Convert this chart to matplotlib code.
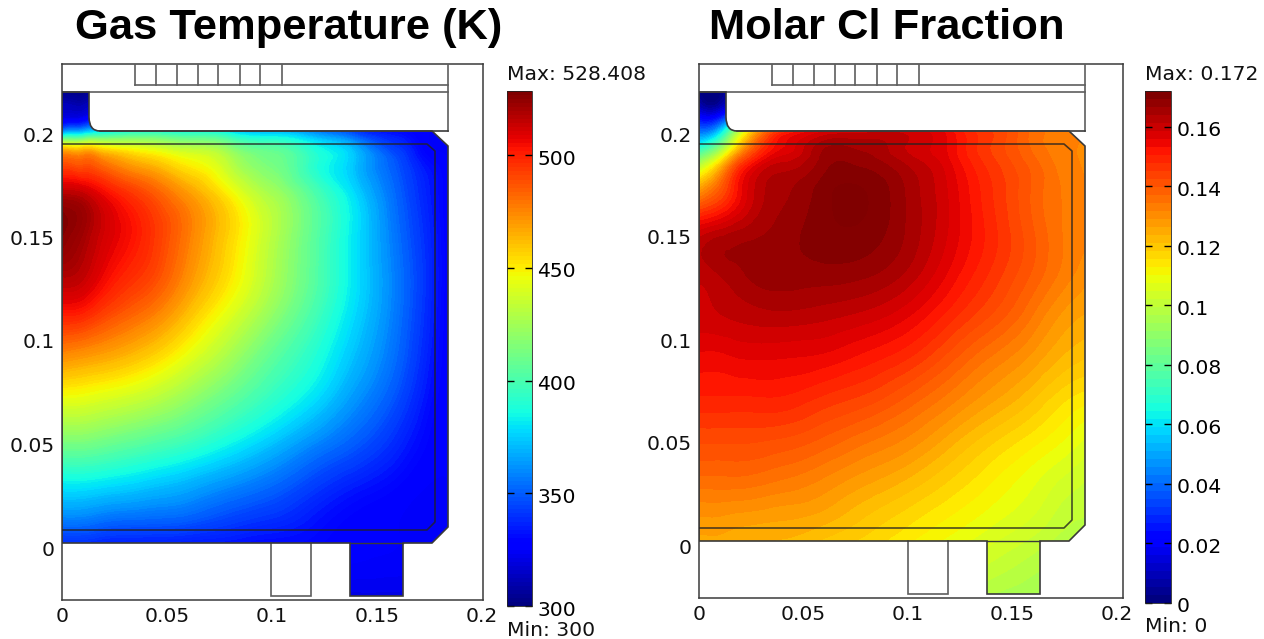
import numpy as np
import matplotlib
matplotlib.use("Agg")
import matplotlib.pyplot as plt
import matplotlib.tri as mtri
from matplotlib.path import Path
from matplotlib.patches import PathPatch
from matplotlib.cm import ScalarMappable
from matplotlib.colors import Normalize
from matplotlib.transforms import ScaledTranslation

W, H = 1264, 639

x_nodes = [0, .01, .02, .04, .06, .08, .10, .12, .14, .16, .175, .185]
y_nodes = [-.027, 0, .01, .03, .05, .07, .09, .11, .13, .15, .17, .185, .194, .2, .21, .22]

temperature = [
    [320]*12,
    [337,337,335,334,333,332,330,329,326,325,324,324],
    [353,353,350,348,346,341,337,332,327,325,324,324],
    [382,382,380,375,369,361,353,343,335,329,325,325],
    [414,414,411,404,396,385,373,360,349,337,328,325],
    [443,442,439,432,420,406,392,378,361,345,331,325],
    [472,469,466,457,442,424,405,389,370,351,334,325],
    [499,497,490,478,460,440,419,398,376,354,336,325],
    [518,515,506,493,473,452,428,404,379,355,337,325],
    [527,521,512,498,478,456,431,405,379,353,336,325],
    [517,514,505,489,470,448,425,401,376,350,334,325],
    [487,485,478,462,448,430,412,391,371,346,330,325],
    [437,437,435,430,421,410,398,382,362,338,325,325],
    [355,366,378,389,385,378,369,357,341,330,325,325],
    [314,314,325,335,335,335,335,330,330,325,323,323],
    [300,300,310,320,325,325,325,325,325,323,323,323],
]
cl_fraction = [
    [.110,.110,.110,.110,.110,.105,.100,.099,.096,.094,.092,.092],
    [.125,.125,.124,.123,.120,.117,.113,.109,.105,.101,.098,.097],
    [.128,.128,.127,.126,.124,.120,.116,.112,.108,.104,.100,.099],
    [.136,.136,.136,.134,.131,.127,.123,.118,.113,.108,.104,.102],
    [.143,.143,.143,.142,.139,.135,.131,.125,.119,.114,.110,.107],
    [.150,.150,.150,.150,.147,.144,.139,.133,.127,.121,.116,.114],
    [.155,.155,.156,.156,.155,.152,.148,.141,.134,.128,.123,.121],
    [.160,.161,.162,.163,.162,.160,.156,.149,.142,.134,.128,.126],
    [.162,.164,.166,.168,.168,.167,.163,.155,.147,.139,.133,.130],
    [.160,.163,.165,.168,.171,.171,.166,.158,.149,.140,.134,.132],
    [.130,.141,.155,.166,.171,.172,.166,.158,.148,.139,.134,.132],
    [.092,.115,.143,.161,.168,.168,.163,.156,.146,.138,.133,.131],
    [.060,.080,.118,.155,.165,.165,.161,.155,.145,.136,.133,.131],
    [.040,.055,.100,.147,.158,.160,.160,.154,.145,.136,.133,.130],
    [.012,.012,.040,.100,.130,.140,.140,.140,.135,.130,.125,.125],
    [.000,.000,.020,.060,.100,.120,.120,.120,.120,.120,.120,.120],
]

tick_x = [0, .05, .1, .15, .2]
tick_y = [0, .05, .1, .15, .2]
tick_x_labels = ['0', '0.05', '0.1', '0.15', '0.2']
tick_y_labels = ['0', '0.05', '0.1', '0.15', '0.2']
t_ticks = [300, 350, 400, 450, 500]
t_tick_labels = ['300', '350', '400', '450', '500']
c_ticks = [0, .02, .04, .06, .08, .1, .12, .14, .16]
c_tick_labels = ['0', '0.02', '0.04', '0.06', '0.08', '0.1', '0.12', '0.14', '0.16']

BASE = 14.6
TITLE = 'Liberation Sans'
EDGE = '#3a3a3a'
GREY = '#5e5e5e'

fig = plt.figure(figsize=(W/100, H/100), dpi=100, facecolor='white')
plt.rcParams['font.family'] = ['DejaVu Sans']


def axes_px(x0, x1, y0, y1):
    return fig.add_axes([x0/W, 1-y1/H, (x1-x0)/W, (y1-y0)/H])


def shift(label, dy):
    label.set_transform(label.get_transform() + ScaledTranslation(0, -dy/100, fig.dpi_scale_trans))


def panel(box, xs, ys, yzero, values, vmin, vmax, nlev, bot):
    ax = axes_px(*box)
    ax.set_xlim(0, (box[1]-box[0])/xs)
    ax.set_ylim((yzero-box[3])/ys, (yzero-box[2])/ys)
    px = lambda p: (p-box[0])/xs
    py = lambda p: (yzero-p)/ys

    xr, yb, yt = px(box[0]+386), py(bot), py(131)
    ch = px(box[0]+370)
    ibx = px(box[0]+27)
    fx = px(box[0]+38)
    itop = py(92)
    outb = py(bot+53)
    ox0, ox1 = px(box[0]+288), px(box[0]+341)
    wx0, wx1 = px(box[0]+209), px(box[0]+249)

    verts = [(0, yb), (ox0, yb), (ox0, outb), (ox1, outb), (ox1, yb), (ch, yb),
             (xr, py(bot-16)), (xr, py(146)), (ch, yt), (fx, yt),
             (ibx, yt), (ibx, py(117)), (ibx, itop), (0, itop), (0, yb)]
    codes = [Path.MOVETO] + [Path.LINETO]*8 + [Path.LINETO, Path.CURVE3, Path.CURVE3,
                                                Path.LINETO, Path.LINETO, Path.CLOSEPOLY]
    shape = Path(verts, codes)

    X, Y = np.meshgrid(x_nodes, y_nodes)
    tr = mtri.Triangulation(X.ravel(), Y.ravel())
    ref = mtri.UniformTriRefiner(tr)
    tf, zf = ref.refine_field(np.asarray(values, float).ravel(), subdiv=3)
    levels = np.linspace(vmin, vmax, nlev+1)
    cs = ax.tricontourf(tf, zf, levels=levels, cmap='jet', vmin=vmin, vmax=vmax,
                        extend='both', antialiased=False)
    clip = PathPatch(shape, transform=ax.transData, fc='none', ec='none')
    ax.add_patch(clip)
    cs.set_clip_path(clip)
    ax.add_patch(PathPatch(shape, fc='none', ec=EDGE, lw=1.2, zorder=5))
    ax.plot([ox0, ox1], [yb, yb], color=EDGE, lw=1.0, zorder=5)

    # inner liner
    ity, iby = py(144), py(bot-13)
    ix, ic = px(box[0]+373), px(box[0]+365)
    ax.plot([0, ic, ix, ix, ic, 0], [ity, ity, py(151), py(bot-21), iby, iby],
            color='#222222', lw=1.2, alpha=.8, zorder=5)

    # unmeshed outlines
    kw = dict(color=GREY, lw=1.2, zorder=4, solid_joinstyle='miter')
    ax.plot([0, xr], [py(92), py(92)], **kw)
    ax.plot([px(box[0]+73), xr], [py(85), py(85)], **kw)
    ax.plot([xr, xr], [py(box[2]), yt], **kw)
    ax.plot([fx, xr], [yt, yt], color=EDGE, lw=1.2, zorder=4)
    for p in [73, 94, 115, 136, 156, 178, 198, 220]:
        ax.plot([px(box[0]+p)]*2, [py(box[2]), py(85)], **kw)
    ax.plot([wx0, wx0, wx1, wx1], [yb, outb, outb, yb], **kw)

    ax.set_xticks(tick_x, tick_x_labels)
    ax.set_yticks(tick_y, tick_y_labels)
    ax.tick_params(length=0, labelsize=BASE, pad=5.0, colors='#111111')
    for s in ax.spines.values():
        s.set_linewidth(1.1)
        s.set_color(EDGE)
    for l in ax.get_yticklabels():
        shift(l, 3)
    return ax


def cbar(box, vmin, vmax, n, ticks, labels, top, bottom, max_text, min_text):
    cax = axes_px(*box)
    sm = ScalarMappable(Normalize(vmin, vmax), plt.get_cmap('jet', n))
    cb = fig.colorbar(sm, cax=cax)
    cb.set_ticks(ticks, labels=labels)
    cb.minorticks_off()
    cax.tick_params(axis='y', direction='in', length=5, width=1, left=True, right=True,
                    labelleft=False, labelright=True, labelsize=BASE, pad=4, color='black')
    cb.outline.set_linewidth(.6)
    cb.outline.set_edgecolor('#222222')
    for l in cax.get_yticklabels():
        shift(l, 2)
    fig.text(box[0]/W, 1-top/H, f'Max: {max_text}', fontsize=BASE, va='center', ha='left', color='#111111')
    fig.text(box[0]/W, 1-bottom/H, f'Min: {min_text}', fontsize=BASE, va='center', ha='left', color='#111111')


panel((62, 483, 64, 600), 2100, 2070, 545, temperature, 300, 528.408, 128, 543)
panel((699, 1123, 64, 598), 2090, 2060, 543, cl_fraction, 0, .172, 64, 541)
cbar((507, 532, 91, 606), 300, 528.408, 128, t_ticks, t_tick_labels, 75, 630, '528.408', '300')
cbar((1145, 1171, 91, 603), 0, .172, 64, c_ticks, c_tick_labels, 75, 627, '0.172', '0')

fig.text(288.5/W, 1-28/H, 'Gas Temperature (K)', family=TITLE, weight='bold', fontsize=31.3, ha='center', va='center', color='black')
fig.text(886.5/W, 1-28/H, 'Molar Cl Fraction', family=TITLE, weight='bold', fontsize=31.3, ha='center', va='center', color='black')

fig.savefig('out.png', dpi=100)
